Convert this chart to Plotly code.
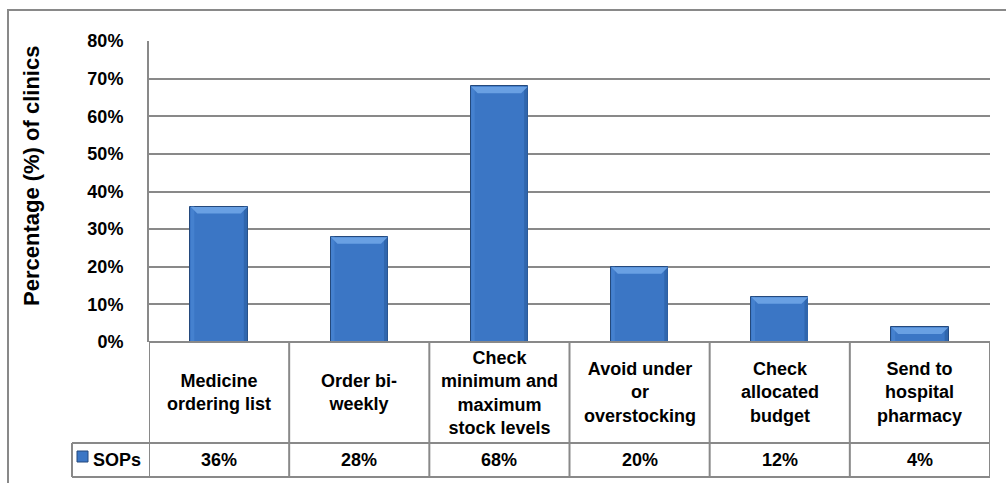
import plotly.graph_objects as go

# Data
categories = [
    "Medicine<br>ordering list",
    "Order bi-<br>weekly",
    "Check<br>minimum and<br>maximum<br>stock levels",
    "Avoid under<br>or<br>overstocking",
    "Check<br>allocated<br>budget",
    "Send to<br>hospital<br>pharmacy",
]
series_name = "SOPs"
sops = [36, 28, 68, 20, 12, 4]
y_ticks = [0, 10, 20, 30, 40, 50, 60, 70, 80]
y_tick_labels = [f"{t}%" for t in y_ticks]

# Layout geometry (pixels)
W, H = 1006, 483
L, R, T, B = 149, 16, 41, 141
plot_w = W - L - R
plot_h = H - T - B
n = len(categories)
x_range = [-0.5, n - 0.5]
px_per_unit = plot_w / (x_range[1] - x_range[0])
BAR_W = 0.41
half_px = BAR_W * px_per_unit / 2

FONT = "Liberation Sans, Arial, sans-serif"
GRID = "#898989"
BAR = "#3b76c5"
TXT = "#000000"
FS = 18


def py_to_paper(py):
    return (H - B - py) / plot_h


def px_to_paper(px):
    return (px - L) / plot_w


x_idx = list(range(n))

fig = go.Figure()
fig.add_trace(go.Bar(
    x=x_idx, y=sops, width=BAR_W, name=series_name,
    marker=dict(color=BAR, line=dict(color="#24497c", width=1)),
    hoverinfo="skip",
))

shapes = []

# bevel effect on each bar
for i, v in enumerate(sops):
    # left and right edge strips
    shapes.append(dict(type="rect", xref="x", yref="y", xsizemode="pixel", xanchor=i,
                       x0=-half_px + 0.5, x1=-half_px + 4, y0=0, y1=v,
                       fillcolor="#4581cf", line=dict(width=0), layer="above"))
    shapes.append(dict(type="rect", xref="x", yref="y", xsizemode="pixel", xanchor=i,
                       x0=half_px - 4, x1=half_px - 0.5, y0=0, y1=v,
                       fillcolor="#3066ad", line=dict(width=0), layer="above"))
    # top bevel
    d = 7
    shapes.append(dict(type="path", xref="x", yref="y", xsizemode="pixel", ysizemode="pixel",
                       xanchor=i, yanchor=v,
                       path=f"M {-half_px + 0.5},-0.5 L {half_px - 0.5},-0.5 L {half_px - d},{-d} L {-half_px + d},{-d} Z",
                       fillcolor="#69a0e3", line=dict(width=0), layer="above"))

# table: header row + value row below the plot area
row1 = py_to_paper(443)
row2 = py_to_paper(477)
x_edges = [k - 0.5 for k in range(n + 1)]
for xe in x_edges:
    shapes.append(dict(type="line", xref="x", yref="paper", x0=xe, x1=xe, y0=0, y1=row2,
                       line=dict(color=GRID, width=2)))
legend_left = px_to_paper(72)
shapes.append(dict(type="line", xref="paper", yref="paper", x0=0, x1=1, y0=0, y1=0,
                   line=dict(color=GRID, width=2)))
shapes.append(dict(type="line", xref="paper", yref="paper", x0=legend_left, x1=1, y0=row1, y1=row1,
                   line=dict(color=GRID, width=2)))
shapes.append(dict(type="line", xref="paper", yref="paper", x0=legend_left, x1=1, y0=row2, y1=row2,
                   line=dict(color=GRID, width=2)))
shapes.append(dict(type="line", xref="paper", yref="paper", x0=legend_left, x1=legend_left, y0=row1, y1=row2,
                   line=dict(color=GRID, width=2)))
# legend key square
shapes.append(dict(type="rect", xref="paper", yref="paper",
                   x0=px_to_paper(77), x1=px_to_paper(88), y0=py_to_paper(462), y1=py_to_paper(451),
                   fillcolor=BAR, line=dict(color="#24497c", width=1)))

# outer chart border
shapes.append(dict(type="rect", xref="paper", yref="paper",
                   x0=px_to_paper(8), x1=1.2, y0=-0.8, y1=py_to_paper(10),
                   line=dict(color=GRID, width=2), fillcolor="rgba(0,0,0,0)", layer="below"))

annotations = []
hdr_y = py_to_paper((342 + 443) / 2)
val_y = py_to_paper(460)
for i, (cat, v) in enumerate(zip(categories, sops)):
    annotations.append(dict(x=i, y=hdr_y, xref="x", yref="paper", text=f"<b>{cat}</b>",
                            showarrow=False, xanchor="center", yanchor="middle",
                            font=dict(family=FONT, size=FS, color=TXT), align="center"))
    annotations.append(dict(x=i, y=val_y, xref="x", yref="paper", text=f"<b>{v}%</b>",
                            showarrow=False, xanchor="center", yanchor="middle",
                            font=dict(family=FONT, size=FS, color=TXT)))
annotations.append(dict(x=px_to_paper(91), y=val_y, xref="paper", yref="paper",
                        text=f"<b>{series_name}</b>", showarrow=False, xanchor="left", yanchor="middle",
                        font=dict(family=FONT, size=FS, color=TXT)))
annotations.append(dict(x=px_to_paper(31), y=py_to_paper(176), xref="paper", yref="paper",
                        text="<b>Percentage (%) of clinics</b>", textangle=-90, showarrow=False,
                        xanchor="center", yanchor="middle",
                        font=dict(family=FONT, size=22, color=TXT)))

fig.update_layout(
    width=W, height=H,
    margin=dict(l=L, r=R, t=T, b=B),
    paper_bgcolor="white", plot_bgcolor="white",
    showlegend=False,
    bargap=0,
    xaxis=dict(range=x_range, showticklabels=False, showgrid=False, zeroline=False,
               showline=False, ticks="", fixedrange=True),
    yaxis=dict(range=[0, 80], tickvals=y_ticks, ticktext=[f"<b>{t}</b>" for t in y_tick_labels],
               showgrid=True, gridcolor=GRID, gridwidth=1.5, zeroline=False,
               showline=True, linecolor=GRID, linewidth=2, ticks="", ticklabelstandoff=20,
               tickfont=dict(family=FONT, size=FS, color=TXT), fixedrange=True),
    shapes=shapes,
    annotations=annotations,
)

fig.write_html("out.html")
